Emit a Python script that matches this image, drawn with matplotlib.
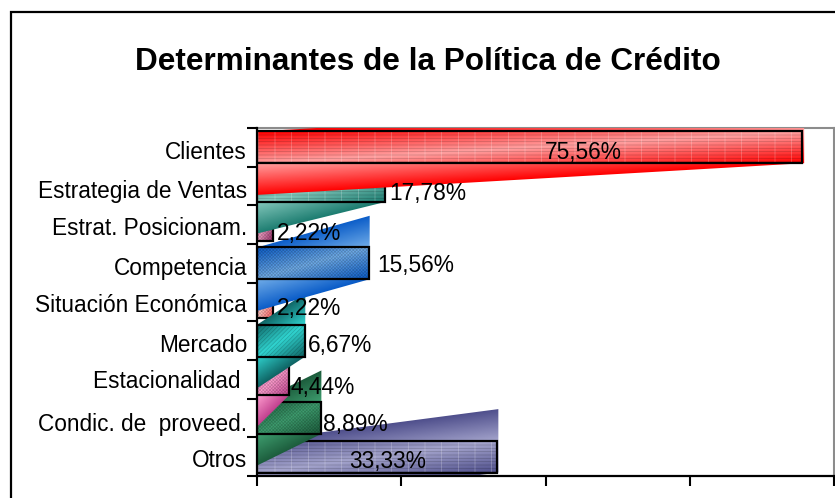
import numpy as np
import matplotlib
matplotlib.use("Agg")
import matplotlib.pyplot as plt
from matplotlib.colors import LinearSegmentedColormap
from matplotlib.patches import Polygon, Rectangle

plt.rcParams['font.family'] = ['Liberation Sans', 'DejaVu Sans']
plt.rcParams['hatch.linewidth'] = 0.5

# bottom to top, as the chart draws them
categories = ['Otros', 'Condic. de  proveed.', 'Estacionalidad ', 'Mercado', 'Situación Económica',
              'Competencia', 'Estrat. Posicionam.', 'Estrategia de Ventas', 'Clientes']
values = [33.33, 8.89, 4.44, 6.67, 2.22, 15.56, 2.22, 17.78, 75.56]
value_labels = ['33,33%', '8,89%', '4,44%', '6,67%', '2,22%', '15,56%', '2,22%', '17,78%', '75,56%']
dark_colors = ['#4f4f8c', '#1c5c3c', '#c2408f', '#0f6464', '#ff5a5a', '#0a5cc8', '#98306a', '#1c7c70', '#ff0000']
light_colors = ['#a4a4cc', '#3f9f70', '#ff9fd0', '#30d4d0', '#ffc4c0', '#70ace8', '#f0a0c4', '#84c8bc', '#ffa0a0']
hatches = ['-----', 'xxxxxxxxxx', 'xxxxxxxxxx', '////////', 'xxxxxxxxxx', 'xxxxxxxxxx', 'xxxxxxxxxx', '-----', '-----']

W, H = 835, 498
fig = plt.figure(figsize=(W / 100, H / 100), dpi=100)
fig.patch.set_facecolor('white')

# black chart frame, cut by the image on the right and at the bottom
fig.add_artist(Rectangle((10.5 / W, -0.05), 1, 1.05 - 12 / H, transform=fig.transFigure,
                         fc='white', ec='black', lw=1.6, zorder=-5))

fig.text(428 / W, 1 - 61.5 / H, 'Determinantes de la Política de Crédito', fontsize=22.7,
         fontweight='bold', ha='center', va='center')

ax = fig.add_axes([257 / W, 1 - 476 / H, 577 / W, 348 / H])
ax.patch.set_alpha(0)
bar_h = 0.82

for i, v in enumerate(values):
    top = i + bar_h / 2
    bottom = i - bar_h / 2
    thin = v < 3
    z = (1.5 if thin else 2) + i * 0.05
    right = v + 0.55 if thin else v * 1.004
    # slanted gradient sheet behind each bar, the thinnest bars only get a small flare
    if thin:
        pts = [(0, top + bar_h), (right, top + bar_h), (v, bottom), (0, bottom)]
    else:
        pts = [(0, top), (right, top + bar_h), (right, bottom), (0, bottom - bar_h)]
    poly = Polygon(pts, closed=True, transform=ax.transData)
    X, Y = np.meshgrid(np.linspace(0, right, 60), np.linspace(bottom - bar_h, top + bar_h, 200))
    t = (Y - (bottom - bar_h * (1 - X / v))) / (2 * bar_h)
    cmap = LinearSegmentedColormap.from_list('g', [dark_colors[i], light_colors[i], dark_colors[i]])
    im = ax.imshow(t, extent=(0, right, bottom - bar_h, top + bar_h), origin='lower', aspect='auto',
                   cmap=cmap, vmin=0, vmax=1, zorder=z, interpolation='bilinear')
    im.set_clip_path(poly)
    ax.barh(i, v, height=bar_h, facecolor='none', edgecolor=(0, 0, 0, 0.2), hatch=hatches[i],
            linewidth=0, zorder=z + 0.01)
    if hatches[i] == '-----':
        ax.barh(i, v, height=bar_h, facecolor='none', edgecolor=(1, 1, 1, 0.3), hatch='|',
                linewidth=0, zorder=z + 0.015)
    ax.barh(i, v, height=bar_h, facecolor='none', edgecolor='black', linewidth=1.6, zorder=z + 0.02)

ax.set_xlim(0, 80)
ax.set_ylim(-0.5, len(values) - 0.5)
ax.set_xticks([0, 20, 40, 60, 80])
ax.set_xticklabels([])
ax.set_yticks(np.arange(len(values) + 1) - 0.5)
ax.set_yticklabels([])
ax.tick_params(axis='both', length=7, width=1.5, direction='out', color='black')

for side in ['top', 'right']:
    ax.spines[side].set_color('#8c8c8c')
    ax.spines[side].set_linewidth(1.5)
    ax.spines[side].set_zorder(1)
for side in ['left', 'bottom']:
    ax.spines[side].set_linewidth(1.6)
    ax.spines[side].set_zorder(5)

# pixel nudges of the text, category text then value text, bottom to top
cat_dy = [-4, -7, -2, -5, -4, -5, -4, -6, -5]
val_dx = [0, 2, 1, 3, 4, 8, 4, 4, 0]
val_dy = [-5, -7, -8, -5, -7, -2, -9, -8, -5]
inside_dx = {0: 10, 8: 54}

for i, label in enumerate(categories):
    ax.annotate(label, xy=(0, i), xycoords=('data', 'data'), xytext=(-10 / 1.389, cat_dy[i] / 1.389),
                textcoords='offset points', ha='right', va='center', fontsize=16.3, clip_on=False, zorder=8)
for i, label in enumerate(value_labels):
    if i in inside_dx:
        ax.annotate(label, xy=(values[i] / 2, i), xytext=(inside_dx[i] / 1.389, val_dy[i] / 1.389),
                    textcoords='offset points', ha='center', va='center', fontsize=16.4, zorder=8)
    else:
        ax.annotate(label, xy=(values[i], i), xytext=(val_dx[i] / 1.389, val_dy[i] / 1.389),
                    textcoords='offset points', ha='left', va='center', fontsize=16.4, zorder=8)

fig.savefig('out.png', dpi=100)
